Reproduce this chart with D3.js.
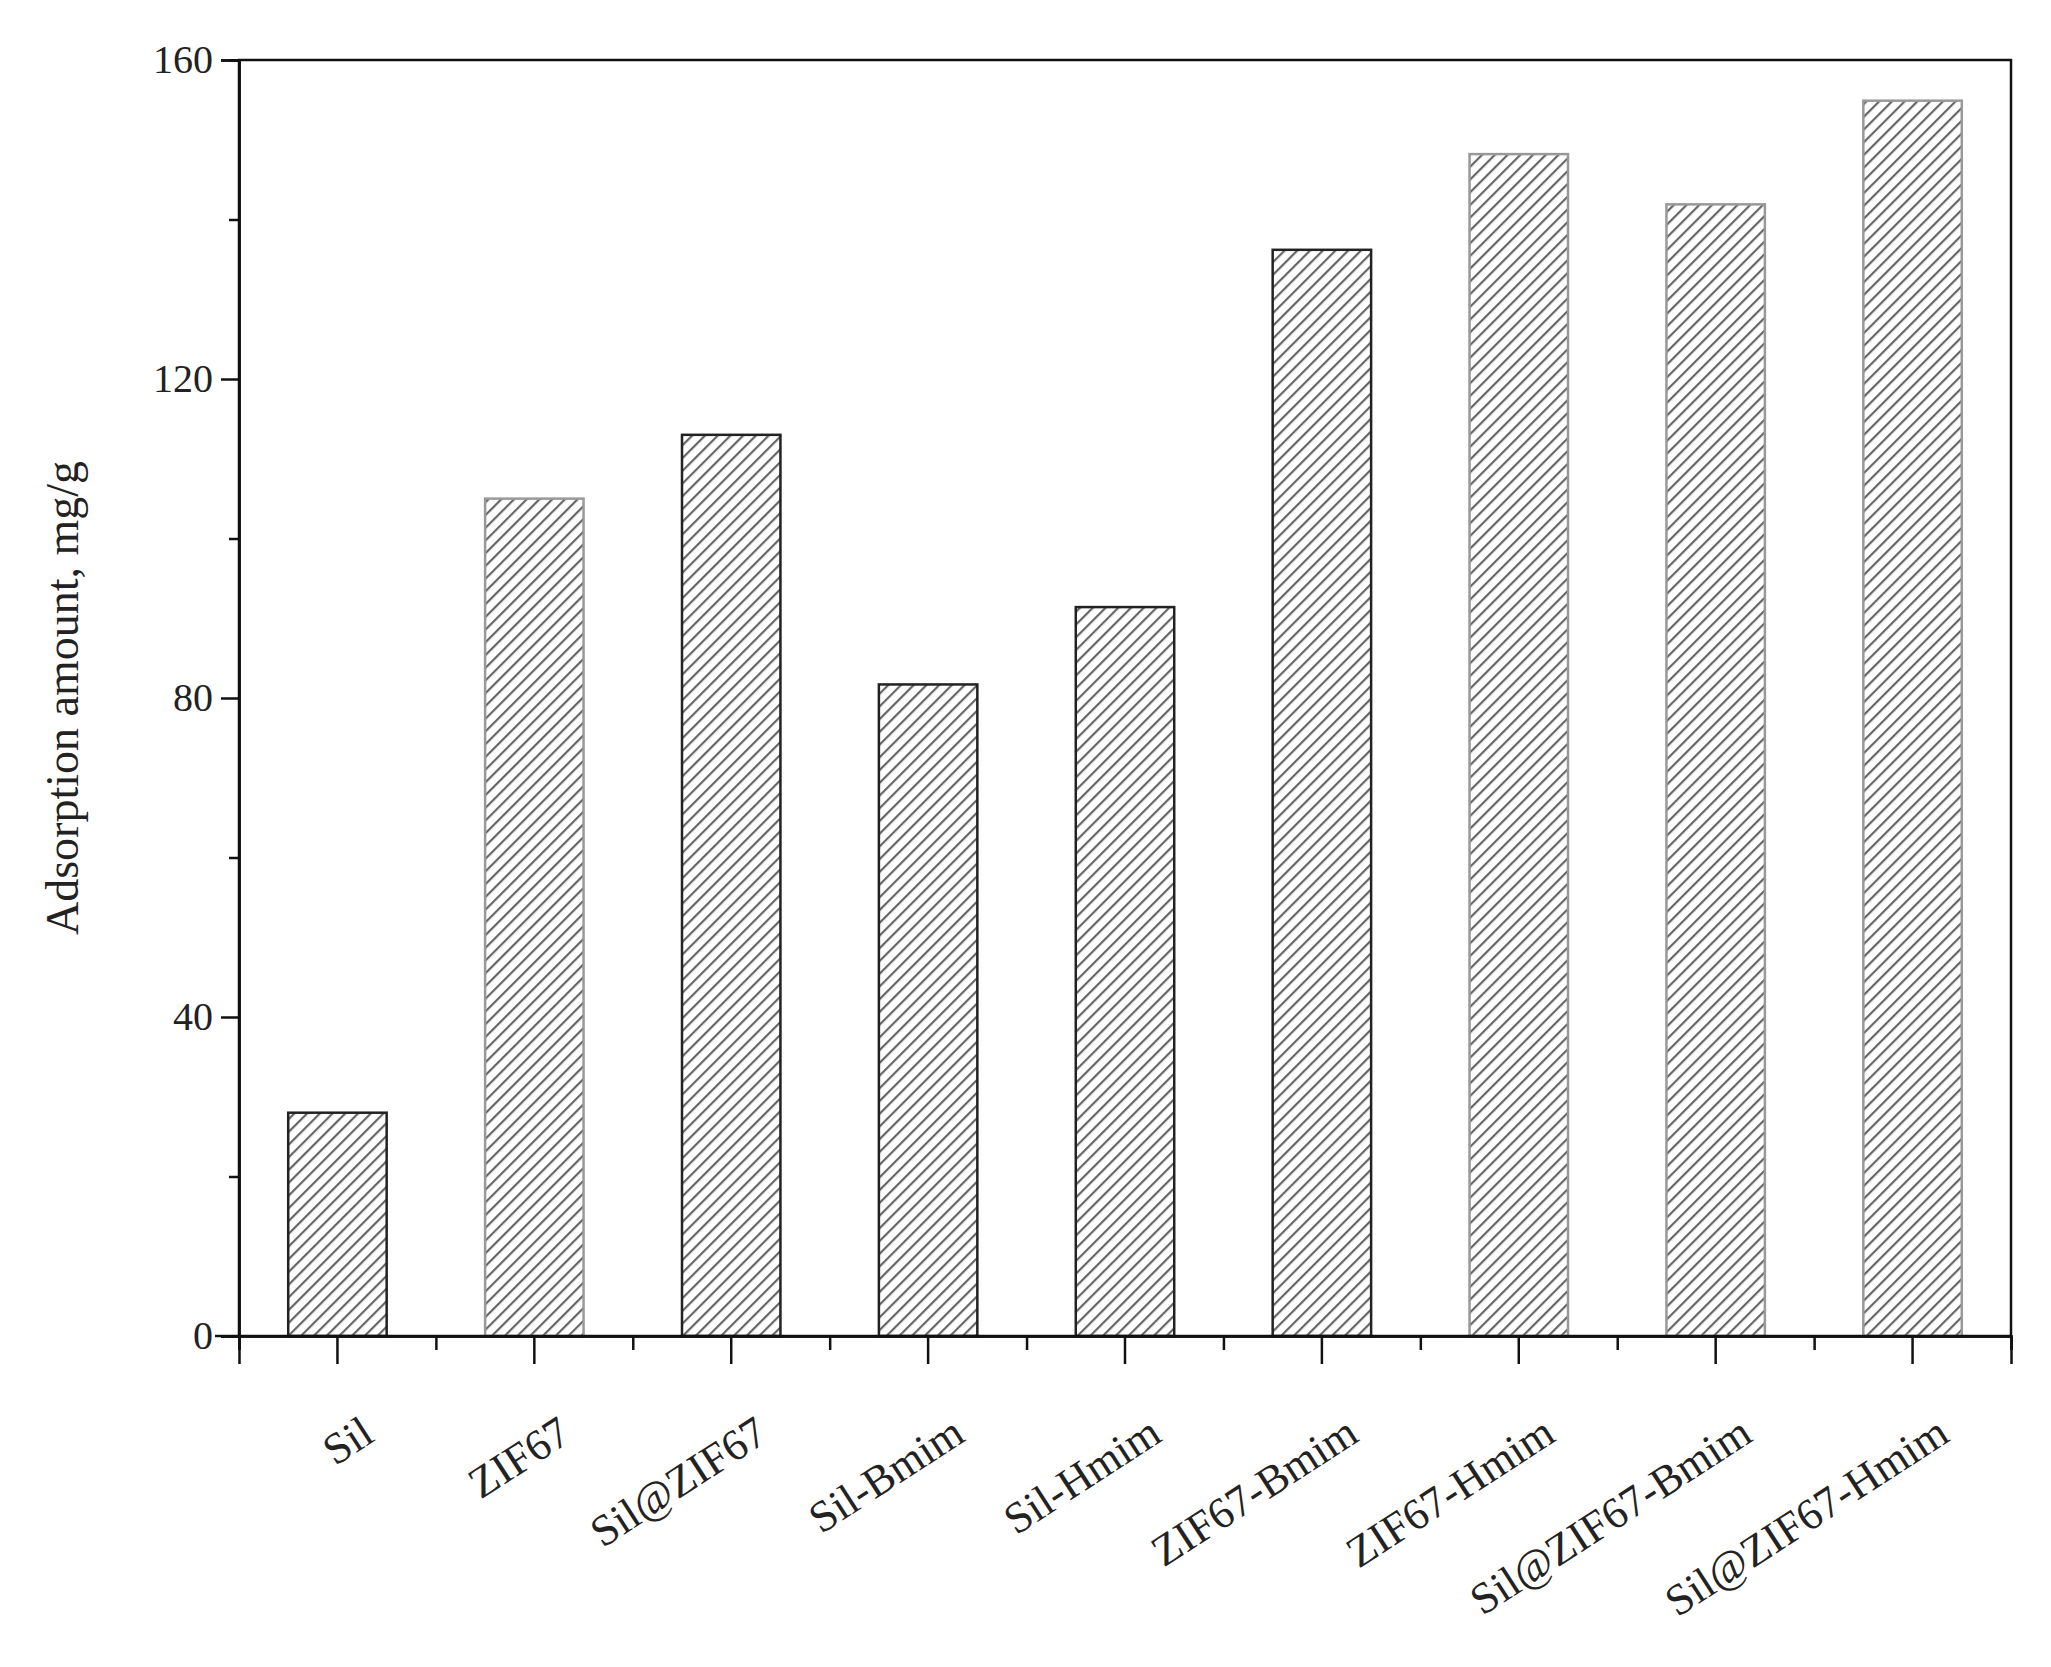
<!DOCTYPE html>
<meta charset="utf-8">
<style>
body { margin: 0; background: #fff; }
text { font-family: 'Liberation Serif', 'Times New Roman', serif; fill: #222; }
</style>
<body>
<svg id="chart" width="2051" height="1667"></svg>
<script src="https://d3js.org/d3.v7.min.js"></script>
<script>
var categories = ["Sil", "ZIF67", "Sil@ZIF67", "Sil-Bmim", "Sil-Hmim", "ZIF67-Bmim", "ZIF67-Hmim", "Sil@ZIF67-Bmim", "Sil@ZIF67-Hmim"];
var values = [28, 105, 113, 81.7, 91.4, 136.2, 148.2, 141.9, 154.9];
var yTicks = [0, 40, 80, 120, 160];

var margin = {top: 60, right: 40, bottom: 331, left: 239},
    width = 2051 - margin.left - margin.right,
    height = 1667 - margin.top - margin.bottom;

var svg = d3.select("#chart");

// hatch pattern
svg.append("defs").append("pattern")
    .attr("id", "hatch")
    .attr("patternUnits", "userSpaceOnUse")
    .attr("width", 9).attr("height", 9)
    .attr("patternTransform", "rotate(45)")
  .append("rect")
    .attr("x", 0).attr("y", 0)
    .attr("width", 2.2).attr("height", 9)
    .attr("fill", "#666");

var g = svg.append("g")
    .attr("transform", "translate(" + margin.left + "," + margin.top + ")");

var x = d3.scaleBand().domain(categories).range([0, width]).padding(0);
var y = d3.scaleLinear().domain([0, 160]).range([height, 0]);

// light outlined bars
var light = {"ZIF67": 1, "ZIF67-Hmim": 1, "Sil@ZIF67-Bmim": 1, "Sil@ZIF67-Hmim": 1};
var bw = x.bandwidth() * 0.5;

g.selectAll(".bar")
    .data(categories)
  .enter().append("rect")
    .attr("class", "bar")
    .attr("x", function(d) { return x(d) + (x.bandwidth() - bw) / 2; })
    .attr("y", function(d, i) { return y(values[i]); })
    .attr("width", bw)
    .attr("height", function(d, i) { return height - y(values[i]); })
    .attr("fill", "url(#hatch)")
    .attr("stroke", function(d) { return light[d] ? "#999" : "#222"; })
    .attr("stroke-width", 2.5);

// frame
g.append("rect")
    .attr("width", width).attr("height", height)
    .attr("fill", "none").attr("stroke", "#111").attr("stroke-width", 2.5);

// y axis
var yAxis = g.append("g")
    .call(d3.axisLeft(y).tickValues(yTicks).tickSize(18).tickPadding(8))
    .style("font-size", "40px");
yAxis.selectAll("text").style("font-family", "'Liberation Serif', serif").attr("fill", "#222");
g.append("g")
    .call(d3.axisLeft(y).tickValues([20, 60, 100, 140]).tickSize(10).tickFormat(""));

// x axis
g.append("g")
    .attr("transform", "translate(0," + height + ")")
    .call(d3.axisBottom(x).tickSize(28).tickFormat(""));
g.append("g")
    .attr("transform", "translate(0," + height + ")")
    .call(d3.axisBottom(d3.scaleLinear().domain([0, categories.length]).range([0, width]))
      .ticks(categories.length).tickSize(14).tickFormat(""));
g.selectAll(".domain").attr("stroke", "#111").attr("stroke-width", 2.5);
g.selectAll(".tick line").attr("stroke", "#111").attr("stroke-width", 2.5);
g.append("line")
    .attr("x1", -24).attr("x2", 0).attr("y1", height).attr("y2", height)
    .attr("stroke", "#111").attr("stroke-width", 2.5);

g.selectAll(".xlabel")
    .data(categories)
  .enter().append("text")
    .attr("class", "xlabel")
    .attr("text-anchor", "end")
    .attr("transform", function(d) {
      return "translate(" + (x(d) + x.bandwidth() / 2 + 22) + "," + (height + 78) + ") rotate(-33)";
    })
    .attr("dy", "0.7em")
    .style("font-size", "44px")
    .text(function(d) { return d; });

svg.append("text")
    .attr("transform", "translate(78," + (margin.top + height / 2) + ") rotate(-90)")
    .attr("text-anchor", "middle")
    .style("font-size", "46px")
    .text("Adsorption amount, mg/g");
</script>
</body>
